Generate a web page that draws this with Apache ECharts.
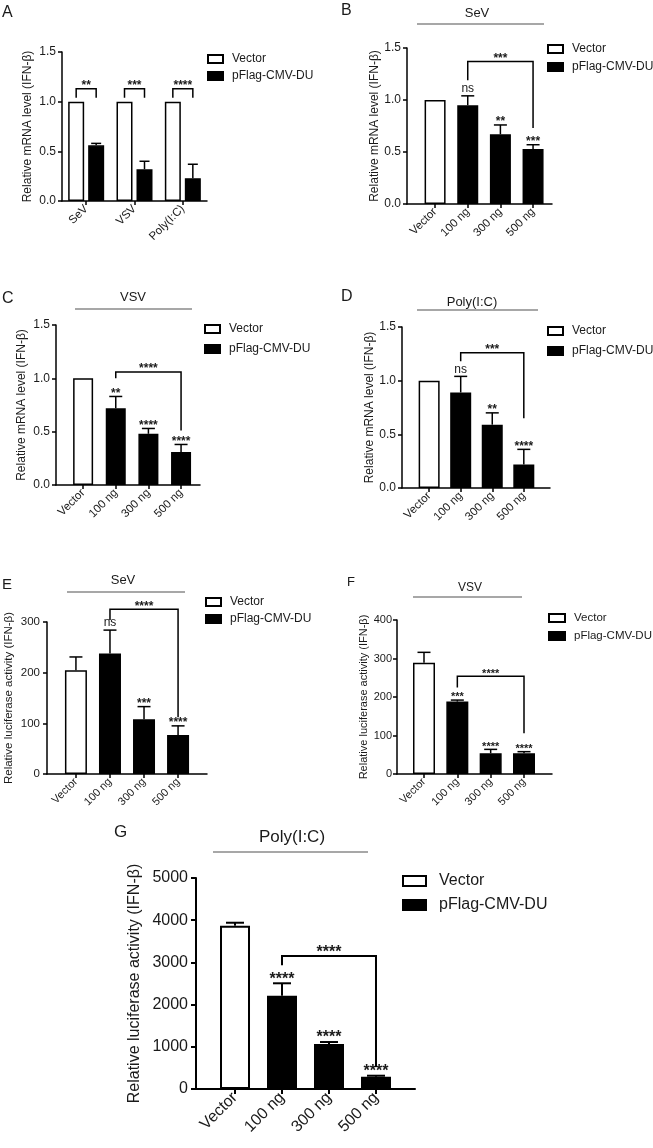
<!DOCTYPE html>
<html>
<head>
<meta charset="utf-8">
<script src="https://cdn.jsdelivr.net/npm/echarts@6/dist/echarts.min.js"></script>
<style>html,body{margin:0;padding:0;background:#fff}#c{width:653px;height:1148px}</style>
</head>
<body>
<div id="c"></div>
<script>
// ================= DATA =================
// Panel A (grouped)
const catsA = ['SeV', 'VSV', 'Poly(I:C)'];
const vectorA = [1.0, 1.0, 1.0];
const duA = [0.56, 0.32, 0.23];
const duErrTopA = [0.58, 0.40, 0.37];
const sigA = ['**', '***', '****'];
const bracketTopA = [1.13, 1.13, 1.13];
const bracketLegA = [1.04, 1.04, 1.04];

// Panels B-G (dose series)
const doseCats = ['Vector', '100 ng', '300 ng', '500 ng'];

const meanB = [1.0, 0.95, 0.67, 0.53];
const errTopB = [null, 1.04, 0.76, 0.57];
const sigB = ['', 'ns', '**', '***'];
const bracketB = [1, 3, 1.37, 1.19, 0.73, '***'];

const meanC = [1.0, 0.72, 0.48, 0.31];
const errTopC = [null, 0.83, 0.53, 0.38];
const sigC = ['', '**', '****', '****'];
const bracketC = [1, 3, 1.06, 1.0, 0.51, '****'];

const meanD = [1.0, 0.89, 0.59, 0.22];
const errTopD = [null, 1.04, 0.70, 0.36];
const sigD = ['', 'ns', '**', '****'];
const bracketD = [1, 3, 1.26, 1.18, 0.65, '***'];

const meanE = [205, 238, 108, 77];
const errTopE = [231, 284, 133, 95];
const sigE = ['', 'ns', '***', '****'];
const bracketE = [1, 3, 325, 304, 112, '****'];

const meanF = [289, 188, 54, 54];
const errTopF = [316, 192, 64, 58];
const sigF = ['', '***', '****', '****'];
const bracketF = [1, 3, 254, 225, 106, '****'];

const meanG = [3870, 2210, 1066, 291];
const errTopG = [3940, 2505, 1113, 315];
const sigG = ['', '****', '****', '****'];
const bracketG = [1, 3, 3150, 2930, 520, '****'];

const yNameMRNA = 'Relative mRNA level (IFN-\u03b2)';
const yNameLuc = 'Relative luciferase activity (IFN-\u03b2)';
const legendNames = ['Vector', 'pFlag-CMV-DU'];

// ================= LAYOUT / STYLE =================
const FONT = '"Liberation Sans", Arial, Helvetica, sans-serif';
const TXT = '#1a1a1a';

const L = {
  A: {grid: {left: 62, top: 52, width: 145, height: 149}, barW: 16, pairOff: 10, fs: 12, xfs: 11.5, lw: 1.5, tick: 4, nameGap: 28, labM: 6, sigFs: 12, cap: 10, yMax: 1.5, yStep: 0.5},
  B: {grid: {left: 407, top: 48, width: 145, height: 156}, xMin: -0.86, xMax: 3.58, barW: 21, fs: 12, xfs: 11.5, lw: 1.5, tick: 4, nameGap: 26, labM: 6, sigFs: 12, cap: 13},
  C: {grid: {left: 56, top: 325, width: 144, height: 160}, xMin: -0.83, xMax: 3.58, barW: 20, fs: 12, xfs: 11.5, lw: 1.5, tick: 4, nameGap: 28, labM: 6, sigFs: 12, cap: 13},
  D: {grid: {left: 402, top: 327, width: 148, height: 161}, xMin: -0.86, xMax: 3.83, barW: 21, fs: 12, xfs: 11.5, lw: 1.5, tick: 4, nameGap: 24, labM: 6, sigFs: 12, cap: 13},
  E: {grid: {left: 47, top: 622, width: 160, height: 152}, xMin: -0.85, xMax: 3.85, barW: 22, fs: 11.5, xfs: 11, lw: 1.5, tick: 4, nameGap: 32, labM: 7, sigFs: 12, cap: 13},
  F: {grid: {left: 397, top: 620, width: 155, height: 154}, xMin: -0.81, xMax: 3.84, barW: 22, fs: 11, xfs: 11, lw: 1.5, tick: 4, nameGap: 24, labM: 5, sigFs: 11, cap: 13},
  G: {grid: {left: 196, top: 878, width: 219, height: 211}, xMin: -0.83, xMax: 3.83, barW: 30, fs: 16, xfs: 16, lw: 2, tick: 5, nameGap: 53, labM: 8, sigFs: 16, cap: 18}
};

const option = {
  animation: false,
  backgroundColor: '#fff',
  textStyle: {fontFamily: FONT},
  grid: [], xAxis: [], yAxis: [], series: [], legend: [], graphic: []
};

function yAxisCfg(gi, max, step, name, fmt, c) {
  return {
    type: 'value', gridIndex: gi, min: 0, max: max, interval: step,
    name: name, nameLocation: 'middle', nameGap: c.nameGap, nameRotate: 90,
    nameTextStyle: {fontSize: c.fs, color: TXT, fontFamily: FONT},
    axisLine: {show: true, onZero: false, lineStyle: {color: '#000', width: c.lw}},
    axisTick: {show: true, length: c.tick, lineStyle: {color: '#000', width: c.lw}},
    axisLabel: {fontSize: c.fs, color: TXT, margin: c.labM, formatter: fmt, fontFamily: FONT},
    splitLine: {show: false}
  };
}

function errSeries(gi, items, c, off) {
  return {
    type: 'custom', xAxisIndex: gi, yAxisIndex: gi, z: 5, silent: true,
    data: items, encode: {x: 0, y: [1, 2]},
    renderItem: function (params, api) {
      const x = api.value(0);
      const p0 = api.coord([x, api.value(1)]);
      const p1 = api.coord([x, api.value(2)]);
      const cx = p0[0] + (off || 0);
      const h = c.cap / 2;
      const st = {stroke: '#000', lineWidth: c.lw};
      return {type: 'group', children: [
        {type: 'line', shape: {x1: cx, y1: p0[1], x2: cx, y2: p1[1]}, style: st},
        {type: 'line', shape: {x1: cx - h, y1: p1[1], x2: cx + h, y2: p1[1]}, style: st}
      ]};
    }
  };
}

function sigSeries(gi, items, texts, c, off) {
  return {
    type: 'custom', xAxisIndex: gi, yAxisIndex: gi, z: 6, silent: true,
    data: items, encode: {x: 0, y: 1},
    renderItem: function (params, api) {
      const p = api.coord([api.value(0), api.value(1)]);
      const t = texts[params.dataIndex];
      const isStar = t.indexOf('*') >= 0;
      return {type: 'text', x: p[0] + (off || 0), y: p[1] + (isStar ? c.sigFs * 0.25 : -1),
        style: {text: t, fontSize: c.sigFs, fontWeight: isStar ? 'bold' : 'normal', fontFamily: FONT, fill: TXT, align: 'center', verticalAlign: 'bottom'}};
    }
  };
}

function bracketSeries(gi, items, texts, c, offL, offR) {
  return {
    type: 'custom', xAxisIndex: gi, yAxisIndex: gi, z: 6, silent: true,
    data: items, encode: {x: [0, 1], y: [2, 3, 4]},
    renderItem: function (params, api) {
      const pl = api.coord([api.value(0), api.value(3)]);
      const plt = api.coord([api.value(0), api.value(2)]);
      const pr = api.coord([api.value(1), api.value(4)]);
      const prt = api.coord([api.value(1), api.value(2)]);
      const xl = pl[0] + (offL || 0), xr = pr[0] + (offR || 0);
      const t = texts[params.dataIndex];
      return {type: 'group', children: [
        {type: 'polyline', shape: {points: [[xl, pl[1]], [xl, plt[1]], [xr, prt[1]], [xr, pr[1]]]},
          style: {stroke: '#000', lineWidth: c.lw, fill: null}},
        {type: 'text', x: (xl + xr) / 2, y: plt[1] + c.sigFs * 0.35 - 1,
          style: {text: t, fontSize: c.sigFs, fontWeight: 'bold', fontFamily: FONT, fill: TXT, align: 'center', verticalAlign: 'bottom'}}
      ]};
    }
  };
}

function legendCfg(left, top, c, w, h, gap, pad) {
  return {
    left: left, top: top, orient: 'vertical', icon: 'rect', itemWidth: w, itemHeight: h, itemGap: gap,
    selectedMode: false, data: legendNames,
    textStyle: {fontSize: c, color: TXT, fontFamily: FONT, padding: [0, 0, 0, pad]}
  };
}

// ---------- Panel A ----------
(function () {
  const c = L.A, gi = 0;
  option.grid.push(Object.assign({containLabel: false}, c.grid));
  option.xAxis.push({
    type: 'category', gridIndex: gi, data: catsA, boundaryGap: true,
    axisLine: {show: true, lineStyle: {color: '#000', width: c.lw}},
    axisTick: {show: true, alignWithLabel: true, length: c.tick, lineStyle: {color: '#000', width: c.lw}},
    axisLabel: {rotate: 45, fontSize: c.xfs, color: TXT, margin: 6, fontFamily: FONT, interval: 0},
    splitLine: {show: false}
  });
  option.yAxis.push(yAxisCfg(gi, c.yMax, c.yStep, yNameMRNA, v => v.toFixed(1), c));
  option.series.push({type: 'bar', name: 'Vector', xAxisIndex: gi, yAxisIndex: gi, barWidth: c.barW, barGap: '25%',
    data: vectorA, itemStyle: {color: '#fff', borderColor: '#000', borderWidth: c.lw}});
  option.series.push({type: 'bar', name: 'pFlag-CMV-DU', xAxisIndex: gi, yAxisIndex: gi, barWidth: c.barW, barGap: '25%',
    data: duA, itemStyle: {color: '#000', borderColor: '#000', borderWidth: c.lw}});
  option.series.push(errSeries(gi, duA.map((v, i) => [i, v, duErrTopA[i]]), c, c.pairOff));
  option.series.push(bracketSeries(gi, catsA.map((k, i) => [i, i, bracketTopA[i], bracketLegA[i], bracketLegA[i]]), sigA, c, -c.pairOff, c.pairOff));
  option.legend.push(legendCfg(202, 48, 12, 15, 8, 5, 4));
})();

// ---------- Panels B-G ----------
const dosePanels = [
  {k: 'B', mean: meanB, err: errTopB, sig: sigB, br: bracketB, max: 1.5, step: 0.5, name: yNameMRNA, fmt: v => v.toFixed(1), leg: [542, 38, 12, 15, 8, 6, 4]},
  {k: 'C', mean: meanC, err: errTopC, sig: sigC, br: bracketC, max: 1.5, step: 0.5, name: yNameMRNA, fmt: v => v.toFixed(1), leg: [199, 318, 12, 15, 8, 8, 4]},
  {k: 'D', mean: meanD, err: errTopD, sig: sigD, br: bracketD, max: 1.5, step: 0.5, name: yNameMRNA, fmt: v => v.toFixed(1), leg: [542, 320, 12, 15, 8, 8, 4]},
  {k: 'E', mean: meanE, err: errTopE, sig: sigE, br: bracketE, max: 300, step: 100, name: yNameLuc, fmt: v => String(v), leg: [200, 591, 12, 15, 8, 5, 4]},
  {k: 'F', mean: meanF, err: errTopF, sig: sigF, br: bracketF, max: 400, step: 100, name: yNameLuc, fmt: v => String(v), leg: [543, 607, 11.5, 16, 8, 6, 4]},
  {k: 'G', mean: meanG, err: errTopG, sig: sigG, br: bracketG, max: 5000, step: 1000, name: yNameLuc, fmt: v => String(v), leg: [397, 868, 16, 23, 10, 8, 8]}
];

dosePanels.forEach(function (p, idx) {
  const gi = idx + 1, c = L[p.k];
  const ticks = doseCats.map((d, i) => i);
  option.grid.push(Object.assign({containLabel: false}, c.grid));
  option.xAxis.push({
    type: 'value', gridIndex: gi, min: c.xMin, max: c.xMax,
    axisLine: {show: true, onZero: false, lineStyle: {color: '#000', width: c.lw}},
    axisTick: {show: true, customValues: ticks, length: c.tick, lineStyle: {color: '#000', width: c.lw}},
    axisLabel: {show: true, customValues: ticks, rotate: 45, fontSize: c.xfs, color: TXT, margin: 6, fontFamily: FONT,
      formatter: v => doseCats[Math.round(v)]},
    splitLine: {show: false}
  });
  option.yAxis.push(yAxisCfg(gi, p.max, p.step, p.name, p.fmt, c));
  option.series.push({type: 'bar', name: 'Vector', xAxisIndex: gi, yAxisIndex: gi, barWidth: c.barW, barGap: '-100%',
    data: [[0, p.mean[0]]], itemStyle: {color: '#fff', borderColor: '#000', borderWidth: c.lw}});
  option.series.push({type: 'bar', name: 'pFlag-CMV-DU', xAxisIndex: gi, yAxisIndex: gi, barWidth: c.barW, barGap: '-100%',
    data: p.mean.slice(1).map((v, i) => [i + 1, v]), itemStyle: {color: '#000', borderColor: '#000', borderWidth: c.lw}});
  const errItems = [];
  p.mean.forEach((v, i) => { if (p.err[i] != null) errItems.push([i, v, p.err[i]]); });
  option.series.push(errSeries(gi, errItems, c, 0));
  const sigItems = [], sigTexts = [];
  p.sig.forEach((s, i) => { if (s) { sigItems.push([i, p.err[i] != null ? p.err[i] : p.mean[i]]); sigTexts.push(s); } });
  option.series.push(sigSeries(gi, sigItems, sigTexts, c, 0));
  option.series.push(bracketSeries(gi, [p.br.slice(0, 5)], [p.br[5]], c, 0, 0));
  const lg = p.leg;
  option.legend.push(legendCfg(lg[0], lg[1], lg[2], lg[3], lg[4], lg[5], lg[6]));
});

// ---------- Panel letters & group headers ----------
const letters = [['A', 2, 5, 16], ['B', 341, 3, 16], ['C', 2, 291, 16], ['D', 341, 289, 16], ['E', 2, 577, 15], ['F', 347, 576, 13], ['G', 114, 824, 17]];
letters.forEach(l => option.graphic.push({type: 'text', left: l[1], top: l[2],
  style: {text: l[0], fontSize: l[3], fontFamily: FONT, fill: TXT}}));

const headers = [
  ['SeV', 477, 13, 417, 544, 24, 13],
  ['VSV', 133, 297, 75, 192, 309, 13],
  ['Poly(I:C)', 472, 302, 417, 538, 310, 13],
  ['SeV', 123, 580, 67, 185, 592, 13],
  ['VSV', 470, 588, 413, 522, 597, 12],
  ['Poly(I:C)', 292, 837, 213, 368, 852, 17]
];
headers.forEach(h => {
  option.graphic.push({type: 'text', x: h[1], y: h[2],
    style: {text: h[0], fontSize: h[6], fontFamily: FONT, fill: TXT, align: 'center', verticalAlign: 'middle'}});
  option.graphic.push({type: 'line', shape: {x1: h[3], y1: h[5], x2: h[4], y2: h[5]},
    style: {stroke: '#8a8a8a', lineWidth: 1.5}});
});

const chart = echarts.init(document.getElementById('c'), null, {renderer: 'canvas'});
chart.setOption(option);
</script>
</body>
</html>
